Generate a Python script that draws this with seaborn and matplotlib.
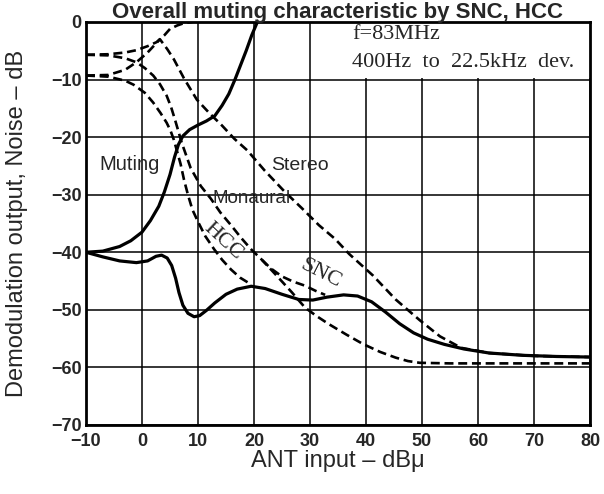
import matplotlib
matplotlib.use("Agg")
import matplotlib.pyplot as plt
from matplotlib.patches import Rectangle
import seaborn as sns

# curve readings (x = ANT input dBu, y = dB)
muting_x = [-10, -7, -4, -2, 0, 1.5, 3, 4, 5, 5.8, 6.5, 7.3, 8.5, 10, 11.5, 13, 14.3, 15.5, 16.6,
            17.6, 18.6, 19.6, 20.6]
muting_y = [-40, -39.8, -39, -38, -36.5, -34.5, -32, -29.5, -26.5, -23.5, -21.3, -19.8, -18.7, -17.9,
            -17.2, -16.3, -14.5, -12.5, -10, -7.5, -5, -2.3, 0]

output_x = [-10, -7, -4, -1, 1, 2.5, 3.5, 4.5, 5.3, 6, 6.6, 7.3, 8.2, 9.3, 10.3, 11.5, 13, 15, 17,
            19.5, 22, 25, 28, 30.5, 33, 36, 38.5, 41, 43.5, 46, 48.5, 51, 54, 57.5, 62, 68, 74, 80]
output_y = [-40, -40.8, -41.5, -41.8, -41.5, -40.7, -40.5, -41, -42.3, -44.5, -47, -49.2, -50.6, -51.2,
            -51, -50.1, -48.8, -47.3, -46.4, -45.9, -46.3, -47.3, -48.2, -48.3, -47.8, -47.4, -47.6,
            -48.6, -50.4, -52.4, -54, -55.1, -56, -56.8, -57.5, -57.9, -58.1, -58.2]

top_x = [-10, -6, -3, -1, 1, 2.6, 4, 5, 6.3, 7.5, 9]
top_y = [-5.7, -5.6, -5.3, -4.9, -4.2, -3.5, -2.3, -1.2, -0.6, -0.2, 0]

mono_x = [-10, -6, -3, -1, 0.5, 2, 3.2, 4.4, 5.2, 5.9, 7.1, 8.7, 10.5, 12.3, 14, 15.9, 17.7, 19.5,
          21.4, 23.7, 26.8, 29.1, 31.2, 33.4, 36.5, 39.4, 42.5, 45.3, 47.5, 49.6, 55, 65, 80]
mono_y = [-5.7, -5.8, -6.3, -7, -8, -9.3, -10.8, -12.8, -14.8, -17, -21, -25.4, -28.5, -30.7, -33.1,
          -35.3, -37.5, -39.5, -41.3, -43.7, -47, -49.6, -51.1, -52.5, -54.3, -55.9, -57.3, -58.3,
          -58.9, -59.2, -59.3, -59.3, -59.3]

snc_x = [21.4, 23, 25, 27, 29.1, 31, 32.7]
snc_y = [-41.3, -42.8, -44.2, -45.1, -45.8, -46.7, -47.4]

hcc_x = [-10, -6, -3, -1.5, 0.5, 2, 3.3, 4.4, 5.1, 5.7, 6.3, 6.9, 7.5, 8.2, 9, 10, 11.3, 12.9, 14.3,
         15.9, 17.5, 19.5]
hcc_y = [-9.3, -9.5, -10.2, -10.9, -12.3, -14, -15.8, -17.5, -18.9, -20.5, -22.6, -24.7, -27.4, -30,
         -32.6, -34.7, -37.2, -39.5, -41.3, -43, -44.4, -45.6]

stereo_x = [-10, -6, -3, -1, 1, 3.2, 4.5, 5.7, 7.5, 9.8, 12, 14.3, 16.5, 18.8, 21.9, 25.5, 28.5,
            31.6, 34.5, 37, 41.2, 45.3, 49.6, 53.2, 57, 62, 70, 80]
stereo_y = [-9.3, -9.2, -8.3, -7, -5.3, -3, -4.7, -6.5, -9.8, -13.5, -15.8, -18, -20.3, -22.3, -25.8,
            -29.5, -32.3, -35.3, -37.7, -40.3, -44, -48.2, -51.8, -54.6, -56.6, -57.5, -58, -58.2]

x_ticks = list(range(-10, 81, 10))
y_ticks = list(range(-70, 1, 10))

sns.set_style("white")
plt.rcParams['font.family'] = ['Liberation Sans', 'DejaVu Sans']

fig = plt.figure(figsize=(6.04, 4.94), dpi=100)
ax = fig.add_axes([0.1424, 0.1397, 0.8344, 0.8158])

# solid curves
for xs, ys in [(muting_x, muting_y), (output_x, output_y)]:
    sns.lineplot(x=xs, y=ys, ax=ax, color='black', lw=2.3, estimator=None)

# dashed curves
for xs, ys in [(top_x, top_y), (mono_x, mono_y), (snc_x, snc_y), (hcc_x, hcc_y), (stereo_x, stereo_y)]:
    sns.lineplot(x=xs, y=ys, ax=ax, color='black', lw=1.9, estimator=None,
                 linestyle=(0, (3.4, 1.8)))

ax.set_xlim(-10, 80)
ax.set_ylim(-70, 0)
ax.set_xticks(x_ticks)
ax.set_yticks(y_ticks)
ax.set_xticklabels([str(t) if t >= 0 else '\u2212' + str(-t) for t in x_ticks],
                   fontweight='bold', fontsize=13)
ax.set_yticklabels([str(t) if t >= 0 else '\u2212' + str(-t) for t in y_ticks],
                   fontweight='bold', fontsize=13)
ax.tick_params(axis='x', length=0, pad=6)
ax.tick_params(axis='y', length=0, pad=3)
ax.grid(True, color='black', lw=1.1)
ax.set_axisbelow(True)
for s in ax.spines.values():
    s.set_color('black')
    s.set_linewidth(2)

# blank box behind the condition note (no grid there)
ax.add_patch(Rectangle((33, -9.75), 47, 9.75, facecolor='white', edgecolor='none', zorder=0.8))

ax.set_xlabel('')
ax.set_ylabel('')
fig.text(0.5596, 1 - 467 / 494, 'ANT input \u2013 dB\u03bc', fontsize=17, ha='center', va='baseline')
fig.text(17 / 604, 1 - 223 / 494, 'Demodulation output, Noise \u2013 dB', fontsize=17,
         ha='center', va='center', rotation=90)

fig.text(0.5596, 1 - 18 / 494, 'Overall muting characteristic by SNC, HCC', ha='center',
         va='baseline', fontweight='bold', fontsize=16)

ax.text(37.5, -2.1, 'f=83MHz', family='Liberation Serif', fontsize=16, ha='left', va='center')
ax.text(37.5, -7.0, '400Hz  to  22.5kHz  dev.', family='Liberation Serif', fontsize=16,
        ha='left', va='center')

ax.text(-2.3, -24.8, 'Muting', fontsize=14.5, ha='center', va='center')
ax.text(28.2, -25.0, 'Stereo', fontsize=14, ha='center', va='center')
ax.text(19.5, -30.6, 'Monaural', fontsize=13.5, ha='center', va='center')
ax.text(14.5, -38.1, 'HCC', family='Liberation Serif', fontsize=16, ha='center', va='center',
        rotation=-43)
ax.text(32.0, -43.7, 'SNC', family='Liberation Serif', fontsize=16, ha='center', va='center',
        rotation=-27)

plt.savefig('out.png', dpi=100)
